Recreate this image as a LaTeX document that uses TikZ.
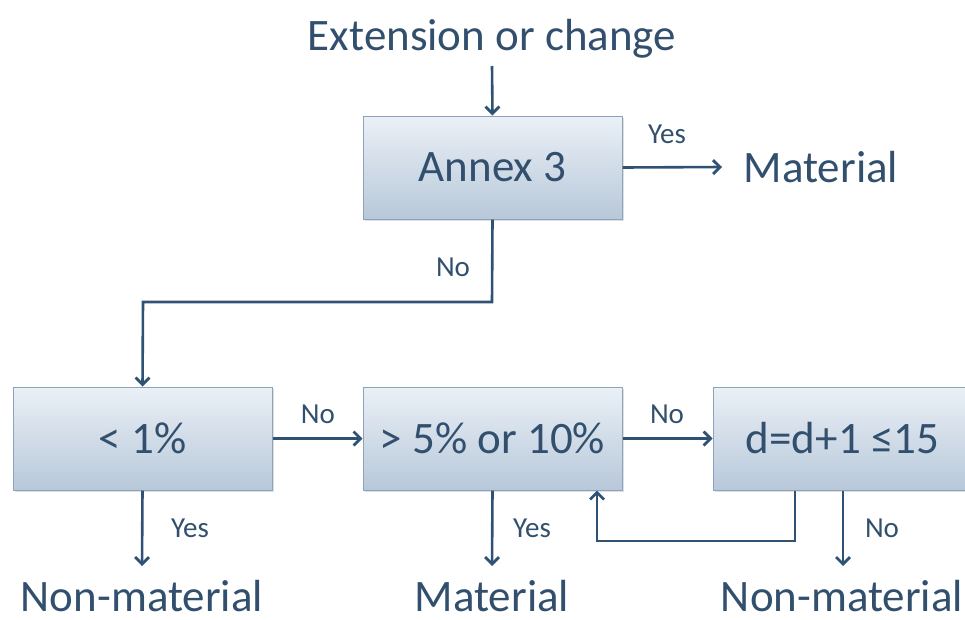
\documentclass[tikz,border=0pt]{standalone}
\usepackage{fontspec}
\setmainfont{Carlito}
\usetikzlibrary{arrows.meta,shadows}
\definecolor{txt}{HTML}{32506E}
\definecolor{ln}{HTML}{2F5274}
\definecolor{bd}{HTML}{8CA3BC}
\definecolor{topc}{HTML}{EBF0F6}
\definecolor{botc}{HTML}{B7C8DA}
\begin{document}
\begin{tikzpicture}[x=1pt,y=-1pt,
  box/.style={draw=bd,line width=1pt,top color=topc,bottom color=botc,minimum width=259pt,minimum height=103pt,inner sep=0pt,text=txt,font=\fontsize{45}{50}\selectfont,drop shadow={shadow xshift=1.5pt,shadow yshift=-1.5pt,opacity=0.25}},
  big/.style={text=txt,font=\fontsize{45}{50}\selectfont,inner sep=0pt,anchor=base},
  lab/.style={text=txt,font=\fontsize{29}{32}\selectfont,inner sep=0pt,anchor=base},
  arr/.style={draw=ln,line width=2.6pt,-{Straight Barb[length=7pt,width=14pt,line width=2.8pt]}}]
\useasboundingbox (0,0) rectangle (965,619);
\node[big] (title) at (492,50) {Extension or change};
\node[box] (annex) at (492.5,167.5) {Annex 3};
\node[big] (mat1) at (821,182) {Material};
\node[box] (lt1) at (142.5,438.5) {< 1\%};
\node[box] (gt5) at (492.5,438.5) {> 5\% or 10\%};
\node[box] (dd) at (842.5,438.5) {d=d+1 ≤15};
\node[big,text depth=0pt] (nm1) at (142,611) {Non-material};
\node[big,text depth=0pt] (mat2) at (492,611) {Material};
\node[big,text depth=0pt] (nm2) at (842,611) {Non-material};
\coordinate (tstart) at (492,66);
\coordinate (c1) at (492,302);
\coordinate (c2) at (143,302);
\coordinate (e1) at (722,167);
\coordinate (d1) at (142,566);
\coordinate (d2) at (492,566);
\coordinate (d3) at (843,566);
\coordinate (l1) at (795,541);
\coordinate (l2) at (597,541);
\draw[arr] (tstart) -- (annex.north);
\draw[arr] (annex.east) -- (e1);
\node[lab] (yes0) at (667,143) {Yes};
\draw[arr] (annex.south) -- (c1) -- (c2) -- (lt1.north);
\node[lab] (no1) at (453,276) {No};
\draw[arr] (lt1.east) -- (gt5.west);
\node[lab] (no2) at (318,423) {No};
\draw[arr] (gt5.east) -- (dd.west);
\node[lab] (no3) at (667,423) {No};
\draw[arr] (lt1.south) -- (d1);
\node[lab] (y1) at (190,537) {Yes};
\draw[arr] (gt5.south) -- (d2);
\node[lab] (y2) at (532,537) {Yes};
\draw[arr] (dd.south -| l1) -- (l1) -- (l2) -- (l2 |- gt5.south);
\draw[arr] (dd.south -| d3) -- (d3);
\node[lab] (n3) at (882,537) {No};
\end{tikzpicture}
\end{document}
